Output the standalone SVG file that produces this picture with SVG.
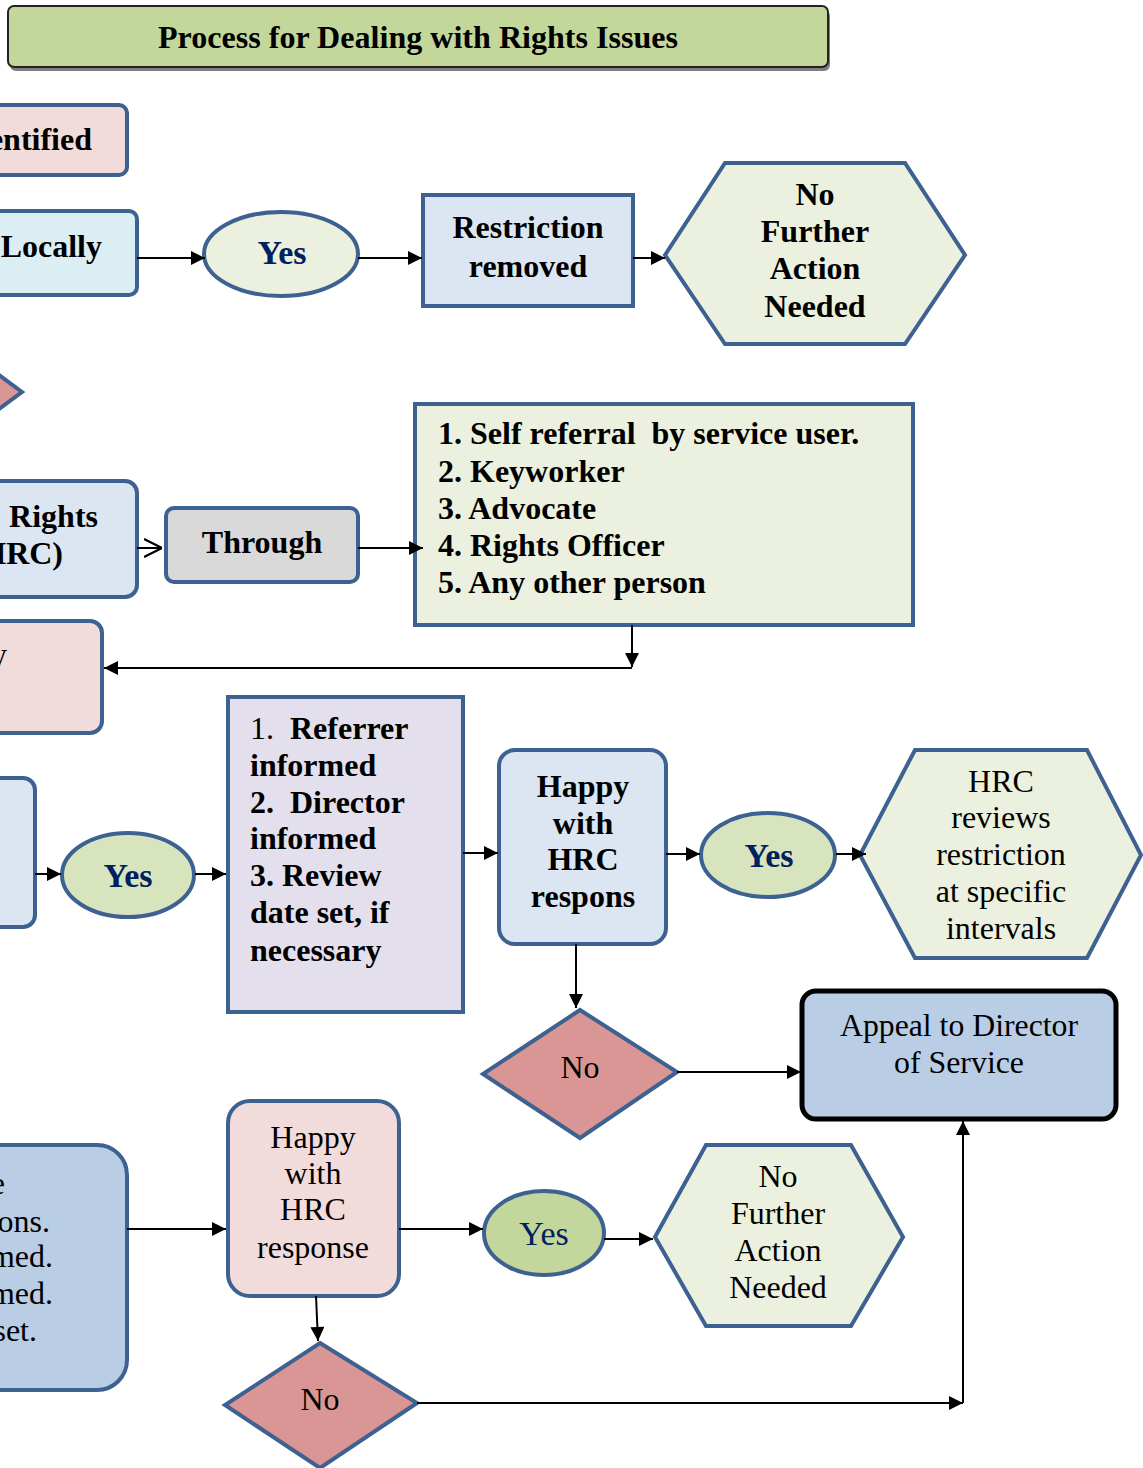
<svg xmlns="http://www.w3.org/2000/svg" width="1143" height="1468" viewBox="0 0 1143 1468">
<defs>
<marker id="ah" viewBox="0 0 10 10" refX="10" refY="5" markerWidth="16" markerHeight="14" orient="auto" markerUnits="userSpaceOnUse"><path d="M0,0 L10,5 L0,10 z" fill="#000"/></marker>
<marker id="oh" viewBox="0 0 10 10" refX="10" refY="5" markerWidth="18" markerHeight="22" orient="auto" markerUnits="userSpaceOnUse"><path d="M0,0 L10,5 L0,10" fill="none" stroke="#000" stroke-width="1.2"/></marker>
<style>
.n{stroke:#3d6190;stroke-width:4}
.t{font-family:"Liberation Serif","Times New Roman",serif;font-size:32px;fill:#000}
.b{font-weight:bold}
.c{text-anchor:middle}
.e{text-anchor:end}
.y{fill:#002060;font-size:34px}
.cn path{stroke:#000;stroke-width:2;fill:none}
</style>
</defs>
<rect width="1143" height="1468" fill="#fff"/>
<g id="title">
<rect x="10" y="10" width="820" height="61" rx="6" fill="#7f7f7f"/>
<rect x="8" y="6" width="820" height="61" rx="6" fill="#c4d79b" stroke="#222" stroke-width="2"/>
<text class="t b c" x="418" y="48" textLength="520" lengthAdjust="spacingAndGlyphs">Process for Dealing with Rights Issues</text>
</g>
<g id="identified">
<rect class="n" x="-40" y="105" width="167" height="70" rx="8" fill="#f2dcdb"/>
<text class="t b e" x="92" y="150">entified</text>
</g>
<g id="locally">
<rect class="n" x="-40" y="211" width="177" height="84" rx="8" fill="#dbeef4"/>
<text class="t b e" x="102" y="257">Locally</text>
</g>
<g id="yes1">
<ellipse class="n" cx="281" cy="254" rx="77" ry="42" fill="#ebf1de"/>
<text class="t b c y" x="282" y="264">Yes</text>
</g>
<g id="restriction">
<rect class="n" x="423" y="195" width="210" height="111" fill="#dce6f2"/>
<text class="t b c" x="528" y="238">Restriction</text>
<text class="t b c" x="528" y="277">removed</text>
</g>
<g id="nfa1">
<polygon class="n" points="665,255 725,163 905,163 965,255 905,344 725,344" fill="#ebf1de"/>
<text class="t b c" x="815" y="205">No</text>
<text class="t b c" x="815" y="242">Further</text>
<text class="t b c" x="815" y="279">Action</text>
<text class="t b c" x="815" y="317">Needed</text>
</g>
<g id="decision1">
<polygon class="n" points="22,392 -73,322 -168,392 -73,462" fill="#da9694"/>
</g>
<g id="hrc">
<rect class="n" x="-40" y="481" width="177" height="116" rx="12" fill="#dce6f2"/>
<text class="t b e" x="98" y="527">Rights</text>
<text class="t b e" x="63" y="564">(HRC)</text>
</g>
<g id="through">
<rect class="n" x="166" y="508" width="192" height="74" rx="8" fill="#d9d9d9"/>
<text class="t b c" x="262" y="553">Through</text>
</g>
<g id="list">
<rect class="n" x="415" y="404" width="498" height="221" fill="#ebf1de"/>
<text class="t b" x="438" y="444">1. Self referral&#160; by service user.</text>
<text class="t b" x="438" y="482">2. Keyworker</text>
<text class="t b" x="438" y="519">3. Advocate</text>
<text class="t b" x="438" y="556">4. Rights Officer</text>
<text class="t b" x="438" y="593">5. Any other person</text>
</g>
<g id="pink2">
<rect class="n" x="-40" y="621" width="142" height="112" rx="12" fill="#f2dcdb"/>
<text class="t e" x="7" y="665">y</text>
</g>
<g id="blue3">
<rect class="n" x="-40" y="778" width="75" height="149" rx="12" fill="#dce6f2"/>
</g>
<g id="yes2">
<ellipse class="n" cx="128" cy="875" rx="66" ry="42" fill="#d7e4bd"/>
<text class="t b c y" x="128" y="887">Yes</text>
</g>
<g id="informed">
<rect class="n" x="228" y="697" width="235" height="315" fill="#e4dfec"/>
<text class="t b" x="250" y="739"><tspan font-weight="normal">1.</tspan>&#160; Referrer</text>
<text class="t b" x="250" y="776">informed</text>
<text class="t b" x="250" y="813">2.&#160; Director</text>
<text class="t b" x="250" y="849">informed</text>
<text class="t b" x="250" y="886">3. Review</text>
<text class="t b" x="250" y="923">date set, if</text>
<text class="t b" x="250" y="961">necessary</text>
</g>
<g id="happy1">
<rect class="n" x="499" y="750" width="167" height="194" rx="16" fill="#dce6f2"/>
<text class="t b c" x="583" y="797">Happy</text>
<text class="t b c" x="583" y="834">with</text>
<text class="t b c" x="583" y="870">HRC</text>
<text class="t b c" x="583" y="907">respons</text>
</g>
<g id="yes3">
<ellipse class="n" cx="768" cy="855" rx="67" ry="42" fill="#d7e4bd"/>
<text class="t b c y" x="769" y="867">Yes</text>
</g>
<g id="reviews">
<polygon class="n" points="860,855 915,750 1087,750 1141,855 1087,958 915,958" fill="#ebf1de"/>
<text class="t c" x="1001" y="792">HRC</text>
<text class="t c" x="1001" y="828">reviews</text>
<text class="t c" x="1001" y="865">restriction</text>
<text class="t c" x="1001" y="902">at specific</text>
<text class="t c" x="1001" y="939">intervals</text>
</g>
<g id="no1">
<polygon class="n" points="580,1010 677,1072 580,1138 483,1074" fill="#da9694"/>
<text class="t c" x="580" y="1078">No</text>
</g>
<g id="appeal">
<rect x="802" y="991" width="314" height="128" rx="14" fill="#b9cde5" stroke="#000" stroke-width="5"/>
<text class="t c" x="959" y="1036" textLength="238" lengthAdjust="spacingAndGlyphs">Appeal to Director</text>
<text class="t c" x="959" y="1073" textLength="130" lengthAdjust="spacingAndGlyphs">of Service</text>
</g>
<g id="blue4">
<rect class="n" x="-40" y="1145" width="167" height="245" rx="30" fill="#b9cde5"/>
<text class="t e" x="5" y="1194">e</text>
<text class="t e" x="50" y="1232">ons.</text>
<text class="t e" x="53" y="1267">med.</text>
<text class="t e" x="53" y="1304">med.</text>
<text class="t e" x="37" y="1341">set.</text>
</g>
<g id="happy2">
<rect class="n" x="228" y="1101" width="171" height="195" rx="22" fill="#f2dcdb"/>
<text class="t c" x="313" y="1148">Happy</text>
<text class="t c" x="313" y="1184">with</text>
<text class="t c" x="313" y="1220">HRC</text>
<text class="t c" x="313" y="1258">response</text>
</g>
<g id="yes4">
<ellipse class="n" cx="544" cy="1233" rx="60" ry="42" fill="#c3d69b"/>
<text class="t c y" x="544" y="1245">Yes</text>
</g>
<g id="nfa2">
<polygon class="n" points="655,1237 706,1145 851,1145 903,1237 851,1326 706,1326" fill="#ebf1de"/>
<text class="t c" x="778" y="1187">No</text>
<text class="t c" x="778" y="1224">Further</text>
<text class="t c" x="778" y="1261">Action</text>
<text class="t c" x="778" y="1298">Needed</text>
</g>
<g id="no2">
<polygon class="n" points="320,1343 417,1403 320,1468 225,1405" fill="#da9694"/>
<text class="t c" x="320" y="1410">No</text>
</g>
<g id="connectors" class="cn">
<path d="M137,258 H205" marker-end="url(#ah)"/>
<path d="M358,258 H422" marker-end="url(#ah)"/>
<path d="M633,258 H665" marker-end="url(#ah)"/>
<path d="M137,548 H162" marker-end="url(#oh)"/>
<path d="M358,548 H423" marker-end="url(#ah)"/>
<path d="M632,625 V667" marker-end="url(#ah)"/>
<path d="M632,668 H104" marker-end="url(#ah)"/>
<path d="M35,874 H61" marker-end="url(#ah)"/>
<path d="M195,874 H226" marker-end="url(#ah)"/>
<path d="M463,853 H498" marker-end="url(#ah)"/>
<path d="M666,854 H700" marker-end="url(#ah)"/>
<path d="M836,854 H866" marker-end="url(#ah)"/>
<path d="M576,944 V1008" marker-end="url(#ah)"/>
<path d="M677,1072 H801" marker-end="url(#ah)"/>
<path d="M127,1229 H226" marker-end="url(#ah)"/>
<path d="M399,1229 H483" marker-end="url(#ah)"/>
<path d="M604,1239 H653" marker-end="url(#ah)"/>
<path d="M316,1296 L318,1341" marker-end="url(#ah)"/>
<path d="M417,1403 H963" marker-end="url(#ah)"/>
<path d="M963,1403 V1121" marker-end="url(#ah)"/>
</g>
</svg>
